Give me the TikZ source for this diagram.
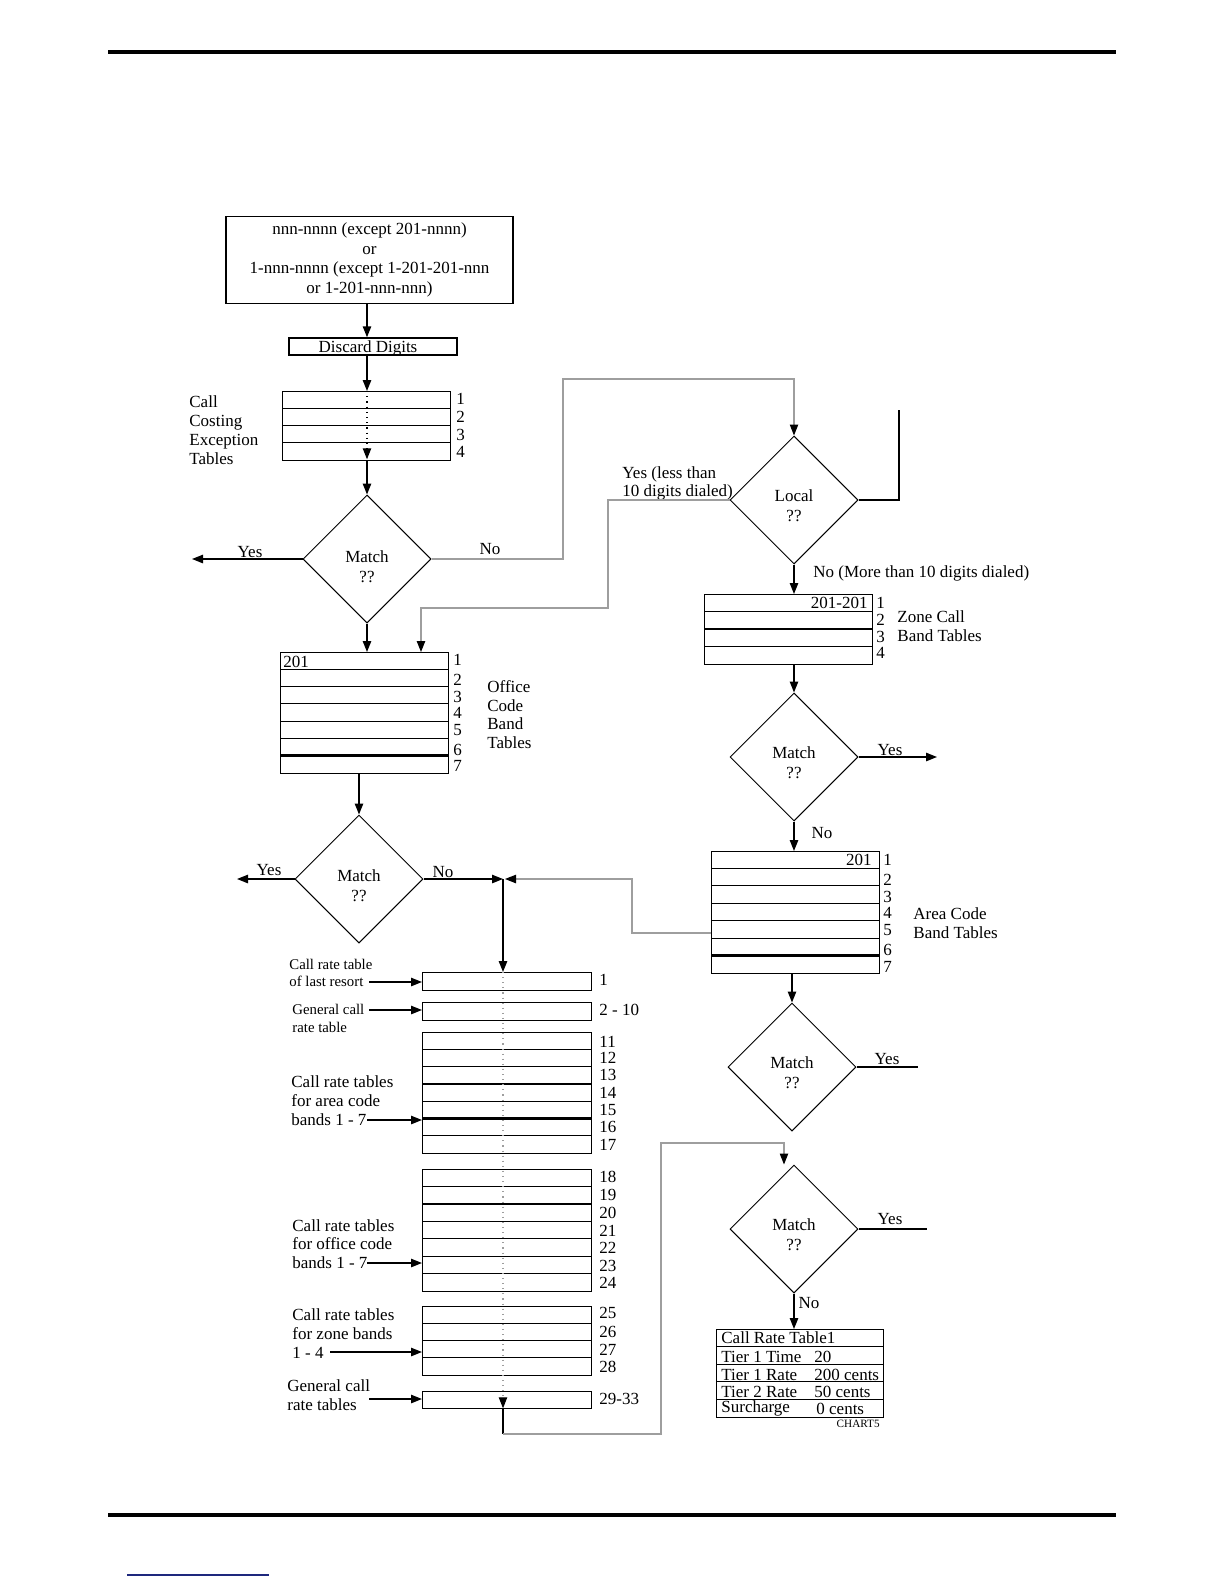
\documentclass[tikz,border=0pt]{standalone}
\usepackage{fontspec}
\setmainfont{Liberation Serif}
\usetikzlibrary{arrows.meta,shapes.geometric}
\definecolor{navyline}{RGB}{30,40,125}
\tikzset{
  arr/.style={-{Triangle[length=5.5pt,width=4.2pt]}},
  garr/.style={-{Triangle[length=5.5pt,width=4.2pt,color=black]}},
  ln/.style={line width=0.75pt,black},
  gl/.style={line width=0.55pt,black!38},
  tbl/.style={draw,line width=0.65pt,rectangle,inner sep=0pt,anchor=north west},
  rowl/.style={line width=0.55pt},
  thk/.style={line width=1.4pt},
  dia/.style={draw,diamond,line width=0.5pt,minimum width=64pt,minimum height=64pt,inner sep=0pt},
  txt/.style={font=\fontsize{8.5pt}{9.4pt}\selectfont,inner sep=0pt},
  dtxt/.style={font=\fontsize{8.5pt}{10pt}\selectfont,inner sep=0pt,align=center},
  sml/.style={font=\fontsize{7.4pt}{8.8pt}\selectfont,inner sep=0pt,anchor=west,align=left},
  lbl/.style={txt,anchor=west,align=left},
  num/.style={txt,anchor=west},
}
\begin{document}
\begin{tikzpicture}[x=0.5pt,y=-0.5pt]
\useasboundingbox (0,0) rectangle (1224,1584);
% page rules
\draw[line width=2pt] (108,52.5) -- (1116,52.5);
\draw[line width=1.6pt] (108,1515) -- (1116,1515);
\draw[line width=0.7pt,navyline] (127,1575) -- (269,1575);

% ---------- top ----------
\node[draw,line width=0.75pt,minimum width=143.5pt,minimum height=43.5pt,inner sep=0pt,
      txt,align=center,font=\fontsize{8.5pt}{9.8pt}\selectfont] (inp) at (369.5,260)
  {nnn-nnnn (except 201-nnnn)\\or\\1-nnn-nnnn (except 1-201-201-nnn\\or 1-201-nnn-nnn)};
\node[draw,line width=0.75pt,minimum width=84pt,minimum height=8.5pt,inner sep=0pt] (disc) at (373,346.5) {};
\node[txt] at (368,348.5) {Discard Digits};
\coordinate (xa) at (367,0);
\draw[ln,arr] (inp.south -| xa) -- (disc.north -| xa);

% call costing exception tables
\node[tbl,minimum width=84pt,minimum height=34.5pt] (cc) at (282,391) {};
\foreach \y in {408.25,425.5,442.75} \draw[rowl] (282,\y) -- (450,\y);
\foreach \n/\y in {1/399,2/417,3/435,4/452} \node[num] at (456,\y) {\n};
\node[lbl] at (189,430) {Call\\Costing\\Exception\\Tables};
\draw[ln,arr] (disc.south -| xa) -- (cc.north -| xa);
\draw[line width=0.6pt,dotted,arr] (cc.north -| xa) -- ([yshift=1pt]cc.south -| xa);

% match 1
\node[dia] (d1) at (367,559) {};
\node[dtxt] at (367,566.5) {Match\\??};
\draw[ln,arr] (cc.south -| xa) -- (d1.north);
\coordinate (y1) at (192,559);
\draw[ln,arr] (d1.west) -- (y1);
\node[txt] at (250,552) {Yes};
\node[txt] at (490,549) {No};

% local
\node[dia] (loc) at (794,500) {};
\node[dtxt] at (794,506) {Local\\??};
\coordinate (c1) at (563,379);
\draw[gl,garr] (d1.east) -- (d1.east -| c1) -- (c1) -- (c1 -| loc.north) -- (loc.north);
\coordinate (lr) at (899,410);
\draw[ln] (loc.east) -- (loc.east -| lr) -- (lr);
\node[lbl] at (622,483.5) {Yes (less than\\10 digits dialed)};
\node[lbl] at (813,573) {No (More than 10 digits dialed)};

% office code band tables
\node[tbl,minimum width=84pt,minimum height=60.5pt] (off) at (280,652) {};
\foreach \y in {669.3,686.6,703.9,721.1,738.4} \draw[rowl] (280,\y) -- (448,\y);
\draw[thk] (280,755.7) -- (448,755.7);
\node[txt,anchor=west] at (283,662) {201};
\foreach \n/\y in {1/660,2/680,3/697,4/713,5/730,6/750,7/766} \node[num] at (453,\y) {\n};
\node[lbl] at (487,714.5) {Office\\Code\\Band\\Tables};
\draw[ln,arr] (d1.south) -- (d1.south |- off.north);
\coordinate (c2) at (608,608);
\coordinate (c3) at (421,608);
\draw[gl,garr] (loc.west) -- (loc.west -| c2) -- (c2) -- (c3) -- (c3 |- off.north);

% zone call band tables
\node[tbl,minimum width=84pt,minimum height=35pt] (zone) at (704,594) {};
\foreach \y in {611.5,629,646.5} \draw[rowl] (704,\y) -- (872,\y);
\node[txt,anchor=east] at (868,603) {201-201};
\foreach \n/\y in {1/603,2/620,3/637,4/653} \node[num] at (876,\y) {\n};
\node[lbl] at (897,626.5) {Zone Call\\Band Tables};
\draw[ln,arr] (loc.south) -- (loc.south |- zone.north);

% match 2
\node[dia] (d2) at (794,757) {};
\node[dtxt] at (794,763) {Match\\??};
\draw[ln,arr] (zone.south -| d2.north) -- (d2.north);
\coordinate (y2) at (937,757);
\draw[ln,arr] (d2.east) -- (y2);
\node[txt] at (890,750) {Yes};
\node[txt] at (822,833) {No};

% area code band tables
\node[tbl,minimum width=84pt,minimum height=61pt] (area) at (711,851) {};
\foreach \y in {868.4,885.9,903.3,920.7,938.1} \draw[rowl] (711,\y) -- (879,\y);
\draw[thk] (711,955.6) -- (879,955.6);
\node[txt,anchor=east] at (872,860) {201};
\foreach \n/\y in {1/860,2/880,3/897,4/913,5/930,6/950,7/967} \node[num] at (883,\y) {\n};
\node[lbl] at (913,923) {Area Code\\Band Tables};
\draw[ln,arr] (d2.south) -- (d2.south |- area.north);

% match office
\node[dia] (d1b) at (359,879) {};
\node[dtxt] at (359,886) {Match\\??};
\draw[ln,arr] (off.south -| d1b.north) -- (d1b.north);
\coordinate (y3) at (237,879);
\draw[ln,arr] (d1b.west) -- (y3);
\node[txt] at (269,870) {Yes};
\node[txt] at (443,872) {No};
\coordinate (jn) at (503,879);
\draw[ln,arr] (d1b.east) -- (jn);
\coordinate (g2) at (632,933);
\draw[gl,garr] (area.west |- g2) -- (g2) -- (g2 |- jn) -- ([xshift=1pt]jn);

% match 3
\node[dia] (d3) at (792,1067) {};
\node[dtxt] at (792,1073) {Match\\??};
\draw[ln,arr] (area.south -| d3.north) -- (d3.north);
\coordinate (y4) at (918,1067);
\draw[ln] (d3.east) -- (y4);
\node[txt] at (887,1059) {Yes};

% call rate tables
\node[tbl,minimum width=84.5pt,minimum height=9pt] (r1) at (422,972) {};
\node[tbl,minimum width=84.5pt,minimum height=9pt] (r2) at (422,1002) {};
\node[tbl,minimum width=84.5pt,minimum height=60.5pt] (r3) at (422,1032) {};
\foreach \y in {1049.3,1066.6,1101.1,1135.7} \draw[rowl] (422,\y) -- (591,\y);
\foreach \y in {1083.9,1118.4} \draw[thk] (422,\y) -- (591,\y);
\node[tbl,minimum width=84.5pt,minimum height=61pt] (r4) at (422,1169) {};
\foreach \y in {1186.4,1221.3,1238.7,1256.1,1273.6} \draw[rowl] (422,\y) -- (591,\y);
\draw[thk] (422,1203.9) -- (591,1203.9);
\node[tbl,minimum width=84.5pt,minimum height=34.5pt] (r5) at (422,1306) {};
\foreach \y in {1323.25,1340.5,1357.75} \draw[rowl] (422,\y) -- (591,\y);
\node[tbl,minimum width=84.5pt,minimum height=8.5pt] (r6) at (422,1391) {};

\node[num] at (599,980) {1};
\node[num] at (599,1010) {2 - 10};
\foreach \n/\y in {11/1042,12/1058,13/1075,14/1093,15/1110,16/1127,17/1145,
                   18/1177,19/1195,20/1213,21/1231,22/1248,23/1266,24/1283,
                   25/1313,26/1332,27/1350,28/1367} \node[num] at (599,\y) {\n};
\node[num] at (599,1399) {29-33};

\draw[ln,arr] (jn) -- (jn |- r1.north);
\draw[gl,dotted,garr] (r1.north -| jn) -- ([yshift=0.5pt]r6.south -| jn);

\node[sml] at (289,973) {Call rate table\\of last resort};
\node[sml] at (292,1018.5) {General call\\rate table};
\node[lbl] at (291,1100.5) {Call rate tables\\for area code\\bands 1 - 7};
\node[lbl] at (292,1244) {Call rate tables\\for office code\\bands 1 - 7};
\node[lbl] at (292,1333.5) {Call rate tables\\for zone bands\\1 - 4};
\node[lbl] at (287,1395) {General call\\rate tables};
\coordinate (a1) at (369,982);
\coordinate (a2) at (369,1010);
\coordinate (a3) at (367,1120);
\coordinate (a4) at (367,1263);
\coordinate (a5) at (330,1352);
\coordinate (a6) at (369,1399);
\draw[ln,arr] (a1) -- (a1 -| r1.west);
\draw[ln,arr] (a2) -- (a2 -| r2.west);
\draw[ln,arr] (a3) -- (a3 -| r3.west);
\draw[ln,arr] (a4) -- (a4 -| r4.west);
\draw[ln,arr] (a5) -- (a5 -| r5.west);
\draw[ln,arr] (a6) -- (a6 -| r6.west);

% match 4 and loop
\node[dia] (d4) at (794,1229) {};
\node[dtxt] at (794,1235) {Match\\??};
\coordinate (b1) at (503,1434);
\coordinate (b2) at (661,1143);
\coordinate (b3) at (784,1143);
\draw[ln] (r6.south -| jn) -- (b1);
\draw[gl,garr] (b1) -- (b1 -| b2) -- (b2) -- (b3) -- (b3 |- d4.north);
\coordinate (y5) at (927,1229);
\draw[ln] (d4.east) -- (y5);
\node[txt] at (890,1219) {Yes};
\node[txt] at (809,1303) {No};

% call rate table 1
\node[tbl,minimum width=83.5pt,minimum height=44pt] (crt) at (716,1329) {};
\foreach \y in {1346.6,1364.2,1381.8,1399.4} \draw[rowl] (716,\y) -- (883,\y);
\draw[ln,arr] (d4.south) -- (d4.south |- crt.north);
\node[num] at (721,1338) {Call Rate Table1};
\node[num] at (721,1357) {Tier 1 Time};
\node[num] at (814,1357) {20};
\node[num] at (721,1375) {Tier 1 Rate};
\node[num] at (814,1375) {200 cents};
\node[num] at (721,1392) {Tier 2 Rate};
\node[num] at (814,1392) {50 cents};
\node[num] at (721,1408.5) {Surcharge};
\node[num] at (816,1408.5) {0 cents};
\node[font=\fontsize{5.6pt}{6pt}\selectfont,inner sep=0pt,anchor=east] at (880,1424) {CHART5};
\end{tikzpicture}
\end{document}
